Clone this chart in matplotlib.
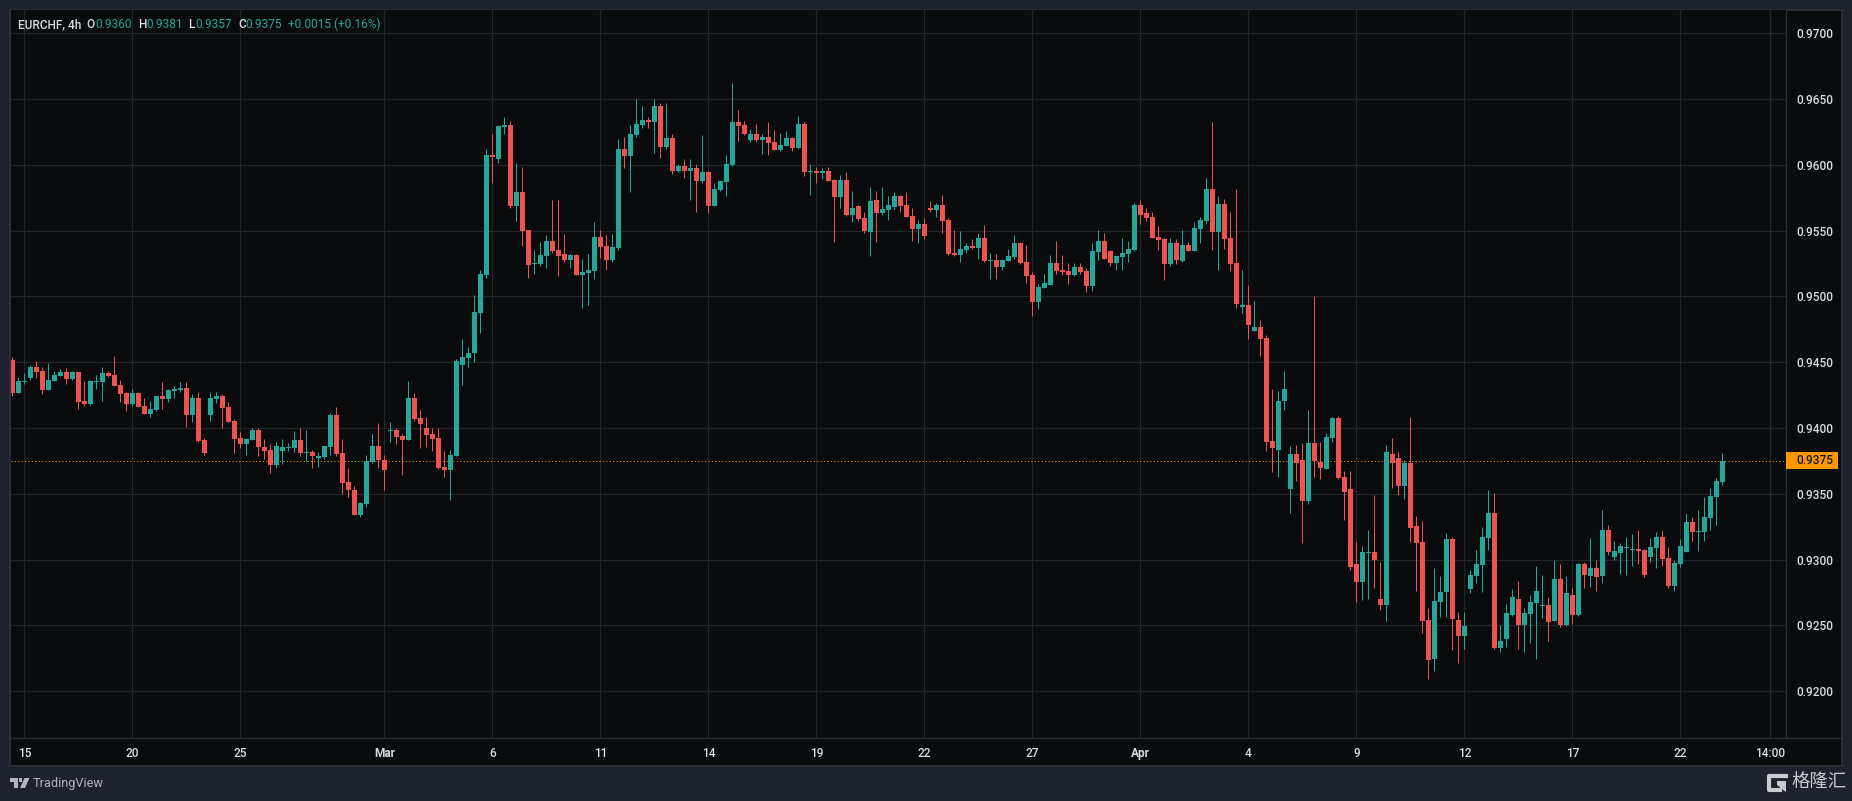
import numpy as np
from matplotlib import pyplot as plt
from matplotlib.patches import Rectangle, Polygon
from matplotlib.lines import Line2D

# EURCHF 4h candles, prices stored x 100000
open_ = [94520,94269,94353,94383,94467,94437,94292,94360,94398,94429,
94376,94429,94208,94185,94353,94353,94421,94406,94330,94269,
94185,94269,94170,94109,94140,94246,94223,94284,94292,94307,
94102,94231,93911,94102,94223,94246,94162,94056,93926,93881,
93911,93987,93858,93835,93721,93827,93850,93850,93911,93812,
93820,93774,93782,93858,94102,93812,93591,93530,93340,93424,
93744,93865,93759,93980,93987,93942,93911,94231,94079,94003,
93957,93926,93706,93683,93789,94482,94535,94567,94873,95162,
96076,96046,96289,96305,95688,95794,95505,95246,95246,95307,
95421,95353,95322,95277,95315,95162,95178,95193,95452,95383,
95277,95368,96122,96068,96228,96305,96343,96327,96449,96137,
96206,95954,95992,95954,95977,95878,95947,95688,95810,95871,
96000,96327,96305,96190,96236,96190,96213,96175,96114,96145,
96206,96127,96312,95947,95954,95939,95954,95886,95756,95886,
95617,95686,95595,95488,95731,95632,95655,95678,95762,95693,
95610,95511,95549,95670,95655,95693,95579,95329,95314,95352,
95382,95367,95443,95268,95276,95223,95268,95299,95405,95261,
95162,94957,95063,95086,95253,95200,95192,95162,95223,95192,
95078,95336,95420,95344,95253,95299,95321,95352,95693,95632,
95602,95450,95435,95245,95405,95268,95390,95344,95511,95572,
95815,95488,95701,95443,95253,94919,94934,94737,94767,94684,
93902,93834,94206,93538,93803,93758,93447,93887,93743,93689,
93925,94077,93629,93538,92968,92832,93052,93059,92703,92657,
93803,93773,93560,93735,93257,93135,92543,92247,92680,92756,
93158,92543,92422,92775,92874,92957,93161,93358,92328,92396,
92578,92699,92502,92586,92669,92646,92654,92533,92851,92502,
92730,92578,92965,92874,92934,92874,93222,93018,93048,93086,
93071,93078,93071,93018,93086,93169,93010,92798,92965,93055,
93290,93207,93207,93313,93480,93593]

high = [94543,94391,94421,94482,94513,94467,94497,94437,94452,94459,
94437,94429,94360,94368,94406,94467,94437,94551,94368,94277,
94299,94277,94231,94208,94246,94353,94299,94322,94353,94353,
94261,94277,93926,94277,94277,94261,94200,94071,93972,93926,
94003,94003,93919,93881,93896,93919,93888,93980,94003,93987,
93835,93820,93865,94117,94162,93919,93698,93561,93439,93797,
93957,94041,93797,94048,94003,93957,94360,94269,94140,94086,
94003,94003,93827,93835,94528,94680,94619,95008,95201,96122,
96236,96305,96365,96335,96015,95985,95505,95353,95414,95467,
95733,95733,95475,95322,95322,95284,95322,95566,95505,95467,
95475,96198,96213,96305,96503,96449,96365,96503,96472,96472,
96236,96008,96046,96046,96008,96228,95954,95863,95886,96076,
96624,96419,96335,96274,96312,96236,96327,96266,96244,96259,
96213,96373,96327,96008,95985,95977,95985,95893,95924,95947,
95799,95693,95640,95830,95799,95830,95762,95792,95769,95792,
95670,95579,95595,95724,95708,95769,95595,95503,95496,95405,
95435,95481,95541,95329,95321,95283,95359,95466,95412,95390,
95185,95094,95170,95314,95420,95314,95253,95253,95253,95215,
95405,95503,95481,95352,95306,95443,95420,95708,95731,95670,
95640,95534,95443,95443,95435,95503,95412,95564,95602,95898,
96328,95762,95739,95640,95815,95199,95086,94965,94820,94707,
94297,94281,94433,93864,93872,93887,94137,95003,93894,93963,
94084,94092,93674,93674,93135,93105,93226,93492,92984,93872,
93925,93818,93758,94084,93333,93295,92634,92938,92877,93204,
93173,92604,92604,92919,93071,93252,93533,93510,92502,92662,
92775,92836,92631,92730,92949,92881,92715,92995,92965,92874,
92783,92972,92980,93161,92995,93381,93260,93139,93124,93169,
93192,93222,93078,93161,93214,93222,93093,92995,93154,93358,
93321,93374,93480,93548,93624,93813]

low = [94246,94269,94338,94368,94383,94261,94292,94360,94398,94338,
94368,94147,94170,94178,94299,94208,94391,94322,94200,94132,
94170,94162,94109,94086,94132,94147,94200,94231,94277,94010,
94048,93896,93797,94056,94193,94003,94048,93812,93850,93797,
93911,93789,93767,93660,93698,93728,93827,93820,93789,93751,
93698,93706,93767,93797,93789,93500,93477,93340,93325,93401,
93736,93698,93530,93896,93881,93645,93911,94056,93850,93858,
93827,93690,93629,93454,93789,94330,94467,94499,94719,95140,
95863,96015,96236,95673,95574,95383,95140,95170,95231,95216,
95330,95155,95261,95216,95162,94911,94934,95132,95292,95201,
95261,95353,95977,95794,96213,96282,96282,96091,96053,96122,
95931,95947,95901,95733,95642,95863,95634,95688,95802,95764,
95992,96183,96228,96175,96175,96084,96076,96114,96107,96145,
96107,96122,95916,95772,95863,95893,95878,95414,95673,95612,
95564,95572,95481,95306,95412,95617,95579,95655,95640,95602,
95420,95405,95435,95640,95602,95481,95314,95306,95261,95329,
95359,95283,95261,95132,95132,95200,95268,95283,95245,95101,
94851,94904,95063,95086,95170,95162,95094,95154,95170,95033,
95040,95276,95283,95230,95200,95200,95261,95344,95549,95572,
95443,95352,95124,95230,95245,95261,95344,95344,95405,95549,
95352,95200,95359,95192,94911,94873,94676,94737,94547,93826,
93667,93629,94137,93355,93598,93128,93424,93629,93614,93689,
93894,93614,93302,92923,92680,92695,92703,92786,92619,92536,
93545,93492,93462,93135,92763,92445,92096,92156,92566,92566,
92316,92217,92323,92745,92821,92752,93071,92321,92298,92336,
92571,92321,92298,92366,92245,92556,92381,92533,92487,92495,
92510,92571,92783,92790,92760,92821,93033,92995,92889,92881,
92949,92965,92866,92980,92934,92949,92783,92760,92942,93055,
93139,93063,93139,93222,93260,93571]

close = [94269,94360,94360,94467,94429,94292,94368,94406,94429,94376,
94429,94200,94185,94360,94360,94421,94398,94322,94261,94185,
94269,94162,94109,94147,94246,94223,94292,94299,94307,94102,
94231,93904,93812,94231,94246,94155,94048,93919,93881,93919,
93987,93858,93827,93721,93865,93858,93858,93911,93812,93820,
93789,93789,93865,94102,93804,93584,93530,93340,93431,93751,
93865,93759,93683,93987,93934,93911,94231,94071,94033,93949,
93919,93698,93683,93797,94513,94543,94574,94879,95170,96076,
96061,96297,96305,95688,95794,95497,95239,95254,95315,95421,
95345,95307,95277,95315,95162,95185,95201,95452,95376,95277,
95376,96122,96068,96236,96312,96343,96327,96449,96137,96206,
95954,95992,95954,95977,95878,95947,95688,95817,95878,96008,
96327,96297,96236,96236,96190,96213,96167,96114,96152,96206,
96129,96312,95947,95954,95939,95954,95878,95756,95886,95619,
95670,95587,95496,95724,95632,95663,95693,95762,95686,95602,
95511,95549,95458,95655,95693,95572,95321,95314,95359,95382,
95367,95443,95268,95276,95223,95276,95306,95405,95253,95154,
94957,95071,95101,95253,95192,95185,95162,95223,95185,95078,
95344,95420,95283,95253,95306,95329,95359,95693,95617,95595,
95443,95428,95245,95405,95276,95390,95344,95519,95579,95815,
95488,95701,95435,95245,94942,94934,94782,94767,94676,93894,
93849,94206,94297,93803,93735,93447,93887,93750,93697,93932,
94077,93621,93515,92946,92832,93059,93059,92999,92657,93818,
93735,93560,93735,93242,93128,92536,92240,92688,92756,93158,
92551,92422,92498,92881,92965,93169,93358,92328,92381,92593,
92715,92502,92593,92677,92760,92654,92525,92851,92502,92745,
92578,92965,92881,92934,92866,93222,93055,93063,93101,93093,
93078,93063,92881,93093,93169,93002,92798,92972,93101,93290,
93207,93215,93321,93487,93601,93753]

price_ticks = [0.92, 0.925, 0.93, 0.935, 0.94, 0.945, 0.95, 0.955, 0.96, 0.965, 0.97]
time_ticks = [2, 20, 38, 62, 80, 98, 116, 134, 152, 170, 188, 206, 224, 242, 260, 278, 293]
time_labels = ['15', '20', '25', 'Mar', '6', '11', '14', '19', '22', '27', 'Apr',
               '4', '9', '12', '17', '22', '14:00']
last_price = 0.9375

UP = '#26a69a'
DOWN = '#ef5350'
BG = '#090b0d'
FRAME = '#1e222d'
EDGE = '#2a2e39'
GRID = '#23252b'
TEXT = '#d8dbe2'
W, H = 1852, 801

plt.rcParams['font.family'] = ['Roboto', 'DejaVu Sans']


def fx(x):
    return x / W


def fy(y):
    return 1 - y / H


def fpts(points):
    return [(fx(x), fy(y)) for x, y in points]


fig = plt.figure(figsize=(W / 100, H / 100), dpi=100, facecolor=FRAME)

# dark panel behind pane, price axis and time axis
fig.add_artist(Rectangle((fx(10), fy(766)), 1832 / W, 756 / H, transform=fig.transFigure,
                         facecolor=BG, edgecolor=EDGE, linewidth=1.4, zorder=-1))

ax = fig.add_axes([fx(10.5), fy(738), 1775.5 / W, 728 / H], facecolor=BG)
ax.set_xlim(-0.305, 295.6)
ax.set_ylim(0.91645, 0.97177)

o = np.array(open_) / 1e5
h = np.array(high) / 1e5
l = np.array(low) / 1e5
c = np.array(close) / 1e5
idx = np.arange(len(o))
colors = [UP if b >= a else DOWN for a, b in zip(o, c)]

# grid and last price line
ax.set_axisbelow(True)
ax.grid(color=GRID, linewidth=0.9)
ax.axhline(last_price, color='#ff9800', linewidth=0.72, linestyle=(0, (1, 2.4)), zorder=1)

# candles
ax.vlines(idx, l, h, colors=colors, linewidth=0.72, zorder=2)
ax.bar(idx, np.abs(c - o), bottom=np.minimum(o, c), width=0.82, color=colors, linewidth=0, zorder=3)

# axes
ax.yaxis.tick_right()
ax.set_yticks(price_ticks)
ax.set_yticklabels(['%.4f' % p for p in price_ticks])
ax.set_xticks(time_ticks)
ax.set_xticklabels(time_labels)
ax.tick_params(axis='y', length=0, pad=7.5, labelsize=8.6, labelcolor=TEXT)
ax.tick_params(axis='x', length=0, pad=6.5, labelsize=8.6, labelcolor=TEXT)
for lab in ax.get_yticklabels() + ax.get_xticklabels():
    lab.set_fontweight('medium')
for lab in ax.get_xticklabels():
    if lab.get_text() in ('Mar', 'Apr'):
        lab.set_fontweight('bold')
for side in ['left', 'top']:
    ax.spines[side].set_visible(False)
for side in ['right', 'bottom']:
    ax.spines[side].set_color(EDGE)
    ax.spines[side].set_linewidth(1.0)

# the separator under the pane runs on under the price axis
fig.add_artist(Line2D([fx(1786), fx(1841)], [fy(738), fy(738)], color=EDGE, linewidth=1.0))

# last price label
fig.add_artist(Rectangle((fx(1786), fy(468.7)), 52 / W, 16.7 / H, transform=fig.transFigure,
                         facecolor='#ff9800', edgecolor='none'))
fig.text(fx(1796), fy(460.4), '%.4f' % last_price, color='#131722', fontsize=8.6,
         fontweight='medium', ha='left', va='center')

# header legend
header = [(18, 'EURCHF, 4h', TEXT), (86.5, 'O', TEXT), (95, '0.9360', UP), (138, 'H', TEXT),
          (146, '0.9381', UP), (188.5, 'L', TEXT), (195, '0.9357', UP), (238, 'C', TEXT),
          (245, '0.9375', UP), (288, '+0.0015 (+0.16%)', UP)]
for x, s, col in header:
    fig.text(fx(x), fy(24.5), s, color=col, fontsize=8.6, ha='left', va='center',
             fontweight='medium' if col == TEXT else 'normal')

# TradingView mark
logo = '#b2b5be'
fig.add_artist(Polygon(fpts([(10, 778), (18, 778), (18, 788), (14, 788), (14, 781.5), (10, 781.5)]),
                       transform=fig.transFigure, facecolor=logo, edgecolor='none'))
fig.add_artist(Polygon(fpts([(19, 778), (22, 778), (22, 781.5), (19, 781.5)]),
                       transform=fig.transFigure, facecolor=logo, edgecolor='none'))
fig.add_artist(Polygon(fpts([(24.5, 778), (29.5, 778), (25, 788), (20, 788)]),
                       transform=fig.transFigure, facecolor=logo, edgecolor='none'))
fig.text(fx(33), fy(783.5), 'TradingView', color=logo, fontsize=9.2, ha='left', va='center')

# watermark
mark = '#c9cacc'
fig.add_artist(Line2D([fx(1786), fx(1769), fx(1769), fx(1780)],
                      [fy(775.5), fy(775.5), fy(789.5), fy(789.5)], color=mark, linewidth=3,
                      solid_joinstyle='round'))
fig.add_artist(Polygon(fpts([(1777, 781), (1786, 781), (1786, 792), (1777, 785)]),
                       transform=fig.transFigure, facecolor=mark, edgecolor='none'))
fig.text(fx(1791.5), fy(782), '格隆汇', color=mark, fontsize=13.2, ha='left', va='center',
         family=['Noto Sans CJK SC', 'DejaVu Sans'])

plt.savefig('out.png', dpi=100, facecolor=fig.get_facecolor())
